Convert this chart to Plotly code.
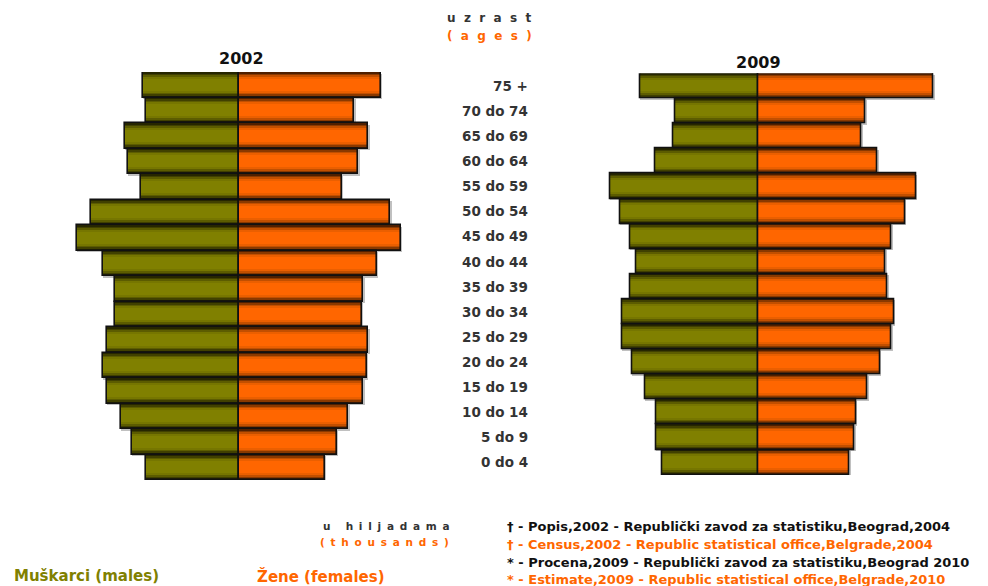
import plotly.graph_objects as go

# ---------------- data (thousands) ----------------
age_groups = ["75 +", "70 do 74", "65 do 69", "60 do 64", "55 do 59", "50 do 54",
              "45 do 49", "40 do 44", "35 do 39", "30 do 34", "25 do 29", "20 do 24",
              "15 do 19", "10 do 14", "5 do 9", "0 do 4"]

males_2002 = [173, 167, 205, 200, 176, 266, 291, 244, 224, 224, 238, 244, 238, 212, 193, 167]
females_2002 = [255, 207, 233, 215, 185, 272, 291, 248, 224, 221, 233, 230, 224, 196, 176, 154]

males_2009 = [213, 149, 153, 186, 266, 249, 230, 219, 230, 244, 244, 226, 203, 184, 184, 172]
females_2009 = [315, 193, 186, 214, 284, 264, 240, 229, 232, 244, 240, 219, 196, 176, 173, 164]

years = ["2002", "2009"]

# ---------------- style ----------------
W, H = 988, 586
OLIVE = ["#262600", "#404000", "#5c5c00", "#767600", "#808000"]
ORANGE = ["#4f1f00", "#8a3900", "#c24f00", "#eb5f00", "#ff6600"]
LAYER_W = [1.0, 0.88, 0.76, 0.62, 0.46]
FONT = "DejaVu Sans"

fig = go.Figure()


def add_pyramid(males, females, xa, ya):
    neg = [-v for v in males]
    # soft shadow
    for vals in (neg, females):
        fig.add_trace(go.Bar(
            y=age_groups, x=[v + (3 if v > 0 else 0) for v in vals], orientation="h",
            width=1.0, offset=-0.44, marker=dict(color="rgba(130,130,130,0.5)", line=dict(width=0)),
            xaxis=xa, yaxis=ya, hoverinfo="skip", showlegend=False))
    for vals, cols in ((neg, OLIVE), (females, ORANGE)):
        for w, c in zip(LAYER_W, cols):
            fig.add_trace(go.Bar(
                y=age_groups, x=vals, orientation="h", width=w,
                marker=dict(color=c, line=dict(width=0)),
                xaxis=xa, yaxis=ya, hoverinfo="skip", showlegend=False))
        fig.add_trace(go.Bar(
            y=age_groups, x=vals, orientation="h", width=1.0,
            marker=dict(color="rgba(0,0,0,0)", line=dict(width=1.6, color="#111111")),
            xaxis=xa, yaxis=ya, hoverinfo="skip", showlegend=False))


add_pyramid(males_2002, females_2002, "x", "y")
add_pyramid(males_2009, females_2009, "x2", "y2")

R = 324
axis_common = dict(showgrid=False, zeroline=False, showticklabels=False, ticks="",
                   showline=False, fixedrange=True)
fig.update_layout(
    width=W, height=H, barmode="overlay", bargap=0,
    margin=dict(l=0, r=0, t=0, b=0),
    paper_bgcolor="white", plot_bgcolor="white",
    showlegend=False,
    xaxis=dict(domain=[59 / W, 419 / W], range=[-R, R], **axis_common),
    yaxis=dict(domain=[1 - 480 / H, 1 - 72 / H], range=[15.5, -0.5],
               categoryorder="array", categoryarray=age_groups, **axis_common),
    xaxis2=dict(domain=[578.3 / W, 938.3 / W], range=[-R, R], **axis_common),
    yaxis2=dict(domain=[1 - 475 / H, 1 - 73.3 / H], range=[15.5, -0.5],
                categoryorder="array", categoryarray=age_groups, anchor="x2", **axis_common),
)

ann = []
# age labels
for g in age_groups:
    ann.append(dict(text=g, x=530 / W, xref="paper", y=g, yref="y2", xanchor="right",
                    yanchor="middle", showarrow=False,
                    font=dict(family=FONT, size=13.5, color="#333333", weight="bold")))


def spaced(s, sep="\u00a0\u00a0"):
    return sep.join(list(s))


def txt(t, x, y, color, size=11, anchor="left"):
    ann.append(dict(text=t, x=x / W, y=1 - y / H, xref="paper", yref="paper", xanchor=anchor,
                    yanchor="middle", showarrow=False,
                    font=dict(family=FONT, size=size, color=color, weight="bold")))


# year titles
txt(years[0], 241, 58, "#111111", 16, "center")
txt(years[1], 758, 62, "#111111", 16, "center")

txt(spaced("uzrast"), 489, 18, "#333333", 12, "center")
txt(spaced("(ages)"), 489, 36, "#ff6600", 12, "center")

txt(spaced("u hiljadama", "\u00a0\u2009"), 386, 526, "#333333", 10.5, "center")
txt(spaced("(thousands)", "\u00a0\u2009"), 384, 542, "#ff6600", 10.5, "center")

txt("\u2020 - Popis,2002 - Republički zavod za statistiku,Beograd,2004", 505, 526, "#111111", 13)
txt("\u2020 - Census,2002 - Republic statistical office,Belgrade,2004", 505, 544, "#ff6600", 13)
txt("* - Procena,2009 - Republički zavod za statistiku,Beograd 2010", 505, 562, "#111111", 13)
txt("* - Estimate,2009 - Republic statistical office,Belgrade,2010", 505, 579, "#ff6600", 13)

txt("Muškarci (males)", 12, 576, "#808000", 15)
txt("Žene (females)", 255, 576, "#ff6600", 15)

fig.update_layout(annotations=ann)
fig.write_html("out.html", config={"displayModeBar": False},
               post_script="document.body.style.margin='0px';document.body.style.overflow='hidden';")
